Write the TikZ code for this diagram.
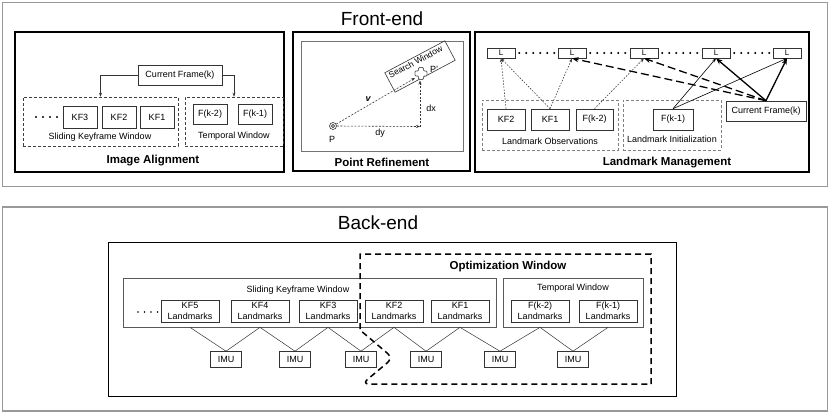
\documentclass[tikz,border=0pt]{standalone}
\usepackage{fontspec}
\setmainfont{Liberation Sans}
\usetikzlibrary{arrows.meta,calc}
\begin{document}
\begin{tikzpicture}[x=1pt,y=-1pt,
  sm/.style={font=\fontsize{9}{10.5}\selectfont},
  box/.style={draw=black!80, line width=0.6pt, fill=white, inner sep=0pt, sm, align=center},
  panel/.style={draw=black, line width=1.1pt},
  outerbox/.style={draw=black!40, line width=1.4pt},
  ttl/.style={font=\bfseries\fontsize{11.5}{13}\selectfont},
  big/.style={font=\fontsize{19}{22}\selectfont},
  dashbox/.style={draw=black!75, line width=0.6pt, dash pattern=on 3pt off 2pt, inner sep=0pt},
  gdashbox/.style={draw=black!50, line width=0.7pt, dash pattern=on 3pt off 2pt, inner sep=0pt},
  tip/.style={-{Stealth[length=4pt,width=3pt]}},
  bigtip/.style={-{Stealth[length=6.5pt,width=5pt]}},
  bigdots/.style={line width=2.2pt, line cap=round, dash pattern=on 0pt off 7pt},
  dotarrow/.style={draw=black!75, line width=0.6pt, dash pattern=on 1.5pt off 1.5pt, tip},
  pdash/.style={draw=black!80, line width=0.6pt, dash pattern=on 2pt off 1.5pt, tip},
  conn/.style={draw=black!80, line width=0.5pt},
]
\useasboundingbox (0,0) rectangle (830,416);

% ===== outer boxes =====
\draw[outerbox] (2.5,2.5) rectangle (827.5,186.5);
\draw[outerbox] (2.5,207) rectangle (827.5,411);
\node[big] (fetitle) at (382,19) {Front-end};
\node[big] (betitle) at (378,223) {Back-end};

% ===== Image Alignment =====
\draw[panel] (15,32) rectangle (284,172);
\node[box, minimum width=84, minimum height=20] (cf1) at (180,75) {Current Frame(k)};
\node[dashbox, minimum width=155, minimum height=49] (skw) at (100.5,121.5) {};
\node[dashbox, minimum width=98, minimum height=49] (tw) at (234,121.5) {};
\node[box, minimum width=34, minimum height=22] (kf3a) at (80,117) {KF3};
\node[box, minimum width=34, minimum height=22] (kf2a) at (119,117) {KF2};
\node[box, minimum width=34, minimum height=22] (kf1a) at (157,117) {KF1};
\node[box, minimum width=34, minimum height=20] (fk2a) at (210,114) {F(k-2)};
\node[box, minimum width=34, minimum height=20] (fk1a) at (255,114) {F(k-1)};
\node[sm] (skwlab) at (100,137) {Sliding Keyframe Window};
\node[sm] (twlab) at (234,136) {Temporal Window};
\coordinate (iadots1) at (36,117);
\coordinate (iadots2) at (58,117);
\draw[bigdots] (iadots1) -- (iadots2);
\draw[conn, tip] (cf1.west) -| (skw.north);
\draw[conn, tip] (cf1.east) -| (tw.north);
\node[ttl] (iattl) at (153,161) {Image Alignment};

% ===== Point Refinement =====
\draw[panel] (293,32) rectangle (470,171);
\draw[draw=black!55, line width=0.8pt] (301,41) rectangle (463,151);
\node[ttl] (prttl) at (382,162) {Point Refinement};
\node[draw=black!80, line width=0.6pt, rotate=28, minimum width=68, minimum height=22, inner sep=0pt] (sw) at (420,66.5) {};
\node[sm, rotate=28, inner sep=0pt, font=\fontsize{8.5}{10}\selectfont] (swlab) at (415.5,62) {Search Window};
\coordinate (Pp) at (421,73.5);
\draw[draw=black!60, line width=0.8pt, fill=white, rounded corners=1pt]
  ($(Pp)+(-2.5,-6)$) -- ($(Pp)+(2.5,-6)$) -- ($(Pp)+(2.5,-2.5)$) -- ($(Pp)+(6,-2.5)$) --
  ($(Pp)+(6,2.5)$) -- ($(Pp)+(2.5,2.5)$) -- ($(Pp)+(2.5,6)$) -- ($(Pp)+(-2.5,6)$) --
  ($(Pp)+(-2.5,2.5)$) -- ($(Pp)+(-6,2.5)$) -- ($(Pp)+(-6,-2.5)$) -- ($(Pp)+(-2.5,-2.5)$) -- cycle;
\node[sm] (pplab) at (434,69) {P'};
\node[circle, draw=black!80, line width=0.6pt, inner sep=0pt, minimum size=7] (P) at (333,126) {};
\node[circle, draw=black!80, line width=0.6pt, inner sep=0pt, minimum size=3.2] (Pin) at (333,126) {};
\node[sm] (plab) at (332,139) {P};
\coordinate (corner) at (420,126.5);
\coordinate (vend) at (415,78);
\coordinate (dxend) at (420,80.5);
\draw[pdash] (P.east) -- (corner);
\draw[pdash] (corner) -- (dxend);
\draw[pdash] (P) -- (vend);
\node[sm] (dylab) at (380,133) {dy};
\node[sm] (dxlab) at (431,108) {dx};
\node[sm] (vlab) at (368,99) {\bfseries\itshape v};

% ===== Landmark Management =====
\draw[panel] (475,32) rectangle (809,172);
\foreach \n/\x in {1/501,2/572,3/644,4/716,5/787}
  \node[box, minimum width=28, minimum height=10, font=\fontsize{8}{9}\selectfont] (L\n) at (\x,53) {L};
\foreach \a/\b in {1/2,2/3,3/4,4/5}
  \draw[bigdots, shorten <=4pt, shorten >=3pt] (L\a.east) -- (L\b.west);
\node[gdashbox, minimum width=136, minimum height=50] (lo) at (550,125) {};
\node[gdashbox, minimum width=98, minimum height=50] (li) at (672,125) {};
\node[box, minimum width=38, minimum height=21] (kf2b) at (506,119.5) {KF2};
\node[box, minimum width=38, minimum height=21] (kf1b) at (550,119.5) {KF1};
\node[box, minimum width=37, minimum height=21] (fk2b) at (594.5,119.5) {F(k-2)};
\node[box, minimum width=40, minimum height=21] (fk1b) at (673,119.5) {F(k-1)};
\node[box, minimum width=80, minimum height=20] (cfb) at (766,111) {Current Frame(k)};
\node[sm] (lolab) at (550,141) {Landmark Observations};
\node[sm] (lilab) at (672,139) {Landmark Initialization};
\draw[dotarrow] (kf2b.north) -- (L1.south);
\draw[dotarrow] (kf1b.north) -- (L1.south);
\draw[dotarrow] (kf1b.north) -- (L2.south);
\draw[dotarrow] (fk2b.north) -- (L3.south);
\draw[draw=black, line width=0.6pt, tip] (fk1b.north) -- (L4.south);
\draw[draw=black, line width=0.6pt, tip] (fk1b.north) -- (L5.south);
\draw[draw=black, line width=1.3pt, dash pattern=on 8pt off 4pt, bigtip] (cfb.north) -- (L2.south);
\draw[draw=black, line width=1.3pt, dash pattern=on 8pt off 4pt, bigtip] (cfb.north) -- (L3.south);
\draw[draw=black, line width=1.3pt, bigtip] (cfb.north) -- (L4.south);
\draw[draw=black, line width=1.3pt, bigtip] (cfb.north) -- (L5.south);
\node[ttl] (lmttl) at (667,163) {Landmark Management};

% ===== Back-end =====
\draw[draw=black, line width=1pt] (108,242) rectangle (676,396);
\node[draw=black!65, line width=0.7pt, minimum width=373, minimum height=49, inner sep=0pt] (bskw) at (309.5,302.5) {};
\node[draw=black!65, line width=0.7pt, minimum width=140, minimum height=49, inner sep=0pt] (btw) at (573,302.5) {};
\node[sm] (bskwlab) at (298,290) {Sliding Keyframe Window};
\node[sm] (btwlab) at (573,288) {Temporal Window};
\coordinate (bdots1) at (138,312);
\coordinate (bdots2) at (159,312);
\draw[bigdots, line width=1.8pt, dash pattern=on 0pt off 6.5pt] (bdots1) -- (bdots2);
\foreach \n/\x/\t in {a/190/KF5,b/260/KF4,c/328/KF3,d/394/KF2,e/460/KF1,f/540/F(k-2),g/608/F(k-1)}
  \node[box, minimum width=58, minimum height=22] (lm\n) at (\x,311) {\t\\Landmarks};
\foreach \n/\x in {1/226,2/295,3/361,4/426,5/500,6/573}
  \node[box, minimum width=31, minimum height=16] (imu\n) at (\x,359.5) {IMU};
\draw[conn] (lma.south |- bskw.south) -- (imu1.north);
\draw[conn] (lmb.south |- bskw.south) -- (imu1.north);
\draw[conn] (lmb.south |- bskw.south) -- (imu2.north);
\draw[conn] (lmc.south |- bskw.south) -- (imu2.north);
\draw[conn] (lmc.south |- bskw.south) -- (imu3.north);
\draw[conn] (lmd.south |- bskw.south) -- (imu3.north);
\draw[conn] (lmd.south |- bskw.south) -- (imu4.north);
\draw[conn] (lme.south |- bskw.south) -- (imu4.north);
\draw[conn] (lme.south |- bskw.south) -- (imu5.north);
\draw[conn] (lmf.south |- btw.south) -- (imu5.north);
\draw[conn] (lmf.south |- btw.south) -- (imu6.north);
\draw[conn] (lmg.south |- btw.south) -- (imu6.north);
% optimization window
\draw[draw=black, line width=1.5pt, dash pattern=on 6pt off 4pt]
  (651,384) -- (651,254) -- (360,254) -- (360,330) [rounded corners=7pt] -- (393,358) -- (362,384) [sharp corners] -- (651,384);
\node[ttl] (owttl) at (508,267) {Optimization Window};
\end{tikzpicture}
\end{document}
